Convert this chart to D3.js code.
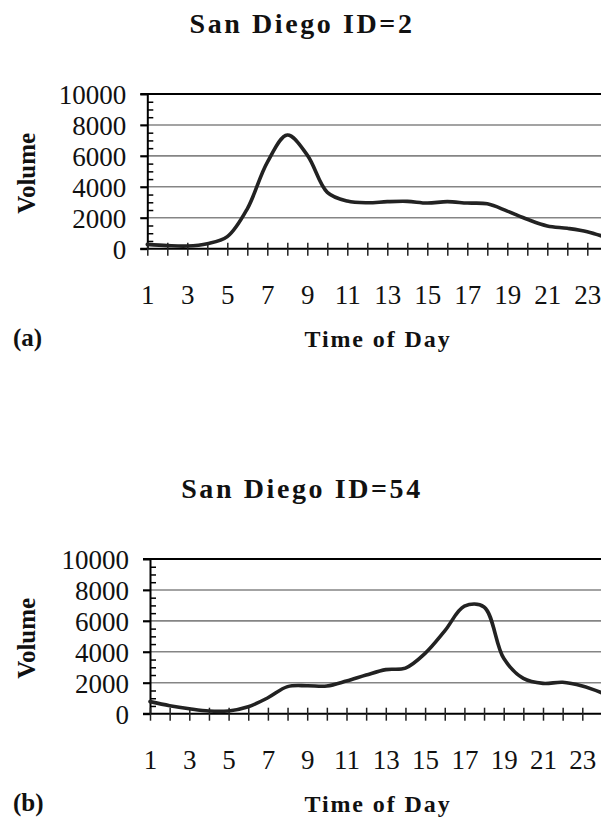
<!DOCTYPE html>
<html>
<head>
<meta charset="utf-8">
<script src="https://cdn.jsdelivr.net/npm/d3@7"></script>
<style>
  html, body { margin: 0; padding: 0; background: #fff; }
  svg { display: block; }
  text { font-family: "Liberation Serif", "Times New Roman", serif; fill: #111; }
</style>
</head>
<body>
<svg id="chart" width="601" height="817"></svg>
<script>
// Hourly traffic volume at two San Diego detector stations
const hours = d3.range(1, 25);
const volumeId2 = [280, 200, 170, 320, 780, 2580, 5580, 7350, 6050, 3640, 3080, 2970,
                   3040, 3060, 2950, 3040, 2950, 2900, 2430, 1900, 1470, 1320, 1100, 700];
const volumeId54 = [780, 520, 320, 170, 180, 450, 1030, 1750, 1810, 1790, 2110, 2500,
                    2850, 2950, 3900, 5350, 6950, 6900, 3580, 2280, 1960, 2030, 1790, 1350];
const yMajorTicks = [0, 2000, 4000, 6000, 8000, 10000];
const yMinorTicks = d3.range(500, 10000, 500).filter(v => v % 2000 !== 0);
const xTickLabels = hours.map(h => (h % 2 === 1 ? String(h) : ""));

const panels = [
  { title: "San Diego ID=2", tag: "(a)", values: volumeId2,
    x0: 147.3, step: 20, top: 94, bottom: 248.7, dy: 0 },
  { title: "San Diego ID=54", tag: "(b)", values: volumeId54,
    x0: 150, step: 19.65, top: 559, bottom: 713.7, dy: 465 }
];

const svg = d3.select("#chart");

panels.forEach(p => {
  const g = svg.append("g");
  const x = d3.scaleLinear().domain([1, 24]).range([p.x0, p.x0 + 23 * p.step]);
  const y = d3.scaleLinear().domain([0, 10000]).range([p.bottom, p.top]);
  const xEnd = x(24);

  // horizontal gridlines
  g.selectAll("line.grid")
    .data([2000, 4000, 6000, 8000])
    .join("line")
    .attr("x1", p.x0 - 7).attr("x2", xEnd)
    .attr("y1", d => y(d)).attr("y2", d => y(d))
    .attr("stroke", "#858585").attr("stroke-width", 1.6);

  // top border of the plot area
  g.append("line")
    .attr("x1", p.x0 - 7).attr("x2", xEnd)
    .attr("y1", y(10000)).attr("y2", y(10000))
    .attr("stroke", "#000").attr("stroke-width", 2);

  // minor ticks pointing into the plot
  g.append("g")
    .attr("transform", `translate(${p.x0},0)`)
    .call(d3.axisRight(y).tickValues(yMinorTicks).tickSize(6).tickFormat(""))
    .call(a => a.select(".domain").remove())
    .call(a => a.selectAll(".tick line").attr("stroke", "#000").attr("stroke-width", 1.5));

  // y axis with major ticks and labels
  g.append("g")
    .attr("transform", `translate(${p.x0},0)`)
    .call(d3.axisLeft(y).tickValues(yMajorTicks).tickSize(7).tickPadding(14)
      .tickSizeOuter(0).tickFormat(d3.format("d")))
    .call(a => a.select(".domain").attr("stroke", "#000").attr("stroke-width", 2))
    .call(a => a.selectAll(".tick line").attr("stroke", "#000").attr("stroke-width", 2))
    .call(a => a.selectAll(".tick text")
      .style("font-family", '"Liberation Serif", serif')
      .style("font-size", "27px").attr("fill", "#111").attr("dy", "0.36em"));

  // x axis with crossing ticks at every hour
  g.append("g")
    .attr("transform", `translate(0,${p.bottom})`)
    .call(d3.axisBottom(x).tickValues(hours).tickSize(6).tickSizeOuter(0)
      .tickFormat((d, i) => xTickLabels[i]))
    .call(a => a.select(".domain").attr("d", `M${p.x0 - 7},0H${xEnd}`)
      .attr("stroke", "#000").attr("stroke-width", 2))
    .call(a => a.selectAll(".tick line").attr("y1", -6).attr("y2", 7)
      .attr("stroke", "#222").attr("stroke-width", 1.5))
    .call(a => a.selectAll(".tick text")
      .style("font-family", '"Liberation Serif", serif')
      .style("font-size", "27px").attr("fill", "#111")
      .attr("y", 55).attr("dy", 0));

  // volume curve
  const line = d3.line()
    .x((d, i) => x(hours[i]))
    .y(d => y(d))
    .curve(d3.curveCatmullRom.alpha(0.5));
  g.append("path")
    .datum(p.values)
    .attr("d", line)
    .attr("fill", "none")
    .attr("stroke", "#222")
    .attr("stroke-width", 3.6)
    .attr("stroke-linejoin", "round")
    .attr("stroke-linecap", "round");

  // titles and labels
  g.append("text")
    .attr("x", 302).attr("y", 33 + p.dy)
    .attr("text-anchor", "middle")
    .style("font-size", "28px").style("font-weight", "bold")
    .style("letter-spacing", "2.6px")
    .text(p.title);

  g.append("text")
    .attr("transform", `translate(35,${(p.top + p.bottom) / 2 + 2}) rotate(-90)`)
    .attr("text-anchor", "middle")
    .style("font-size", "25px").style("font-weight", "bold")
    .text("Volume");

  g.append("text")
    .attr("x", 13).attr("y", 346 + p.dy)
    .style("font-size", "25px").style("font-weight", "bold")
    .text(p.tag);

  g.append("text")
    .attr("x", 378).attr("y", 347 + p.dy)
    .attr("text-anchor", "middle")
    .style("font-size", "24px").style("font-weight", "bold")
    .style("letter-spacing", "1.9px")
    .text("Time of Day");
});
</script>
</body>
</html>
